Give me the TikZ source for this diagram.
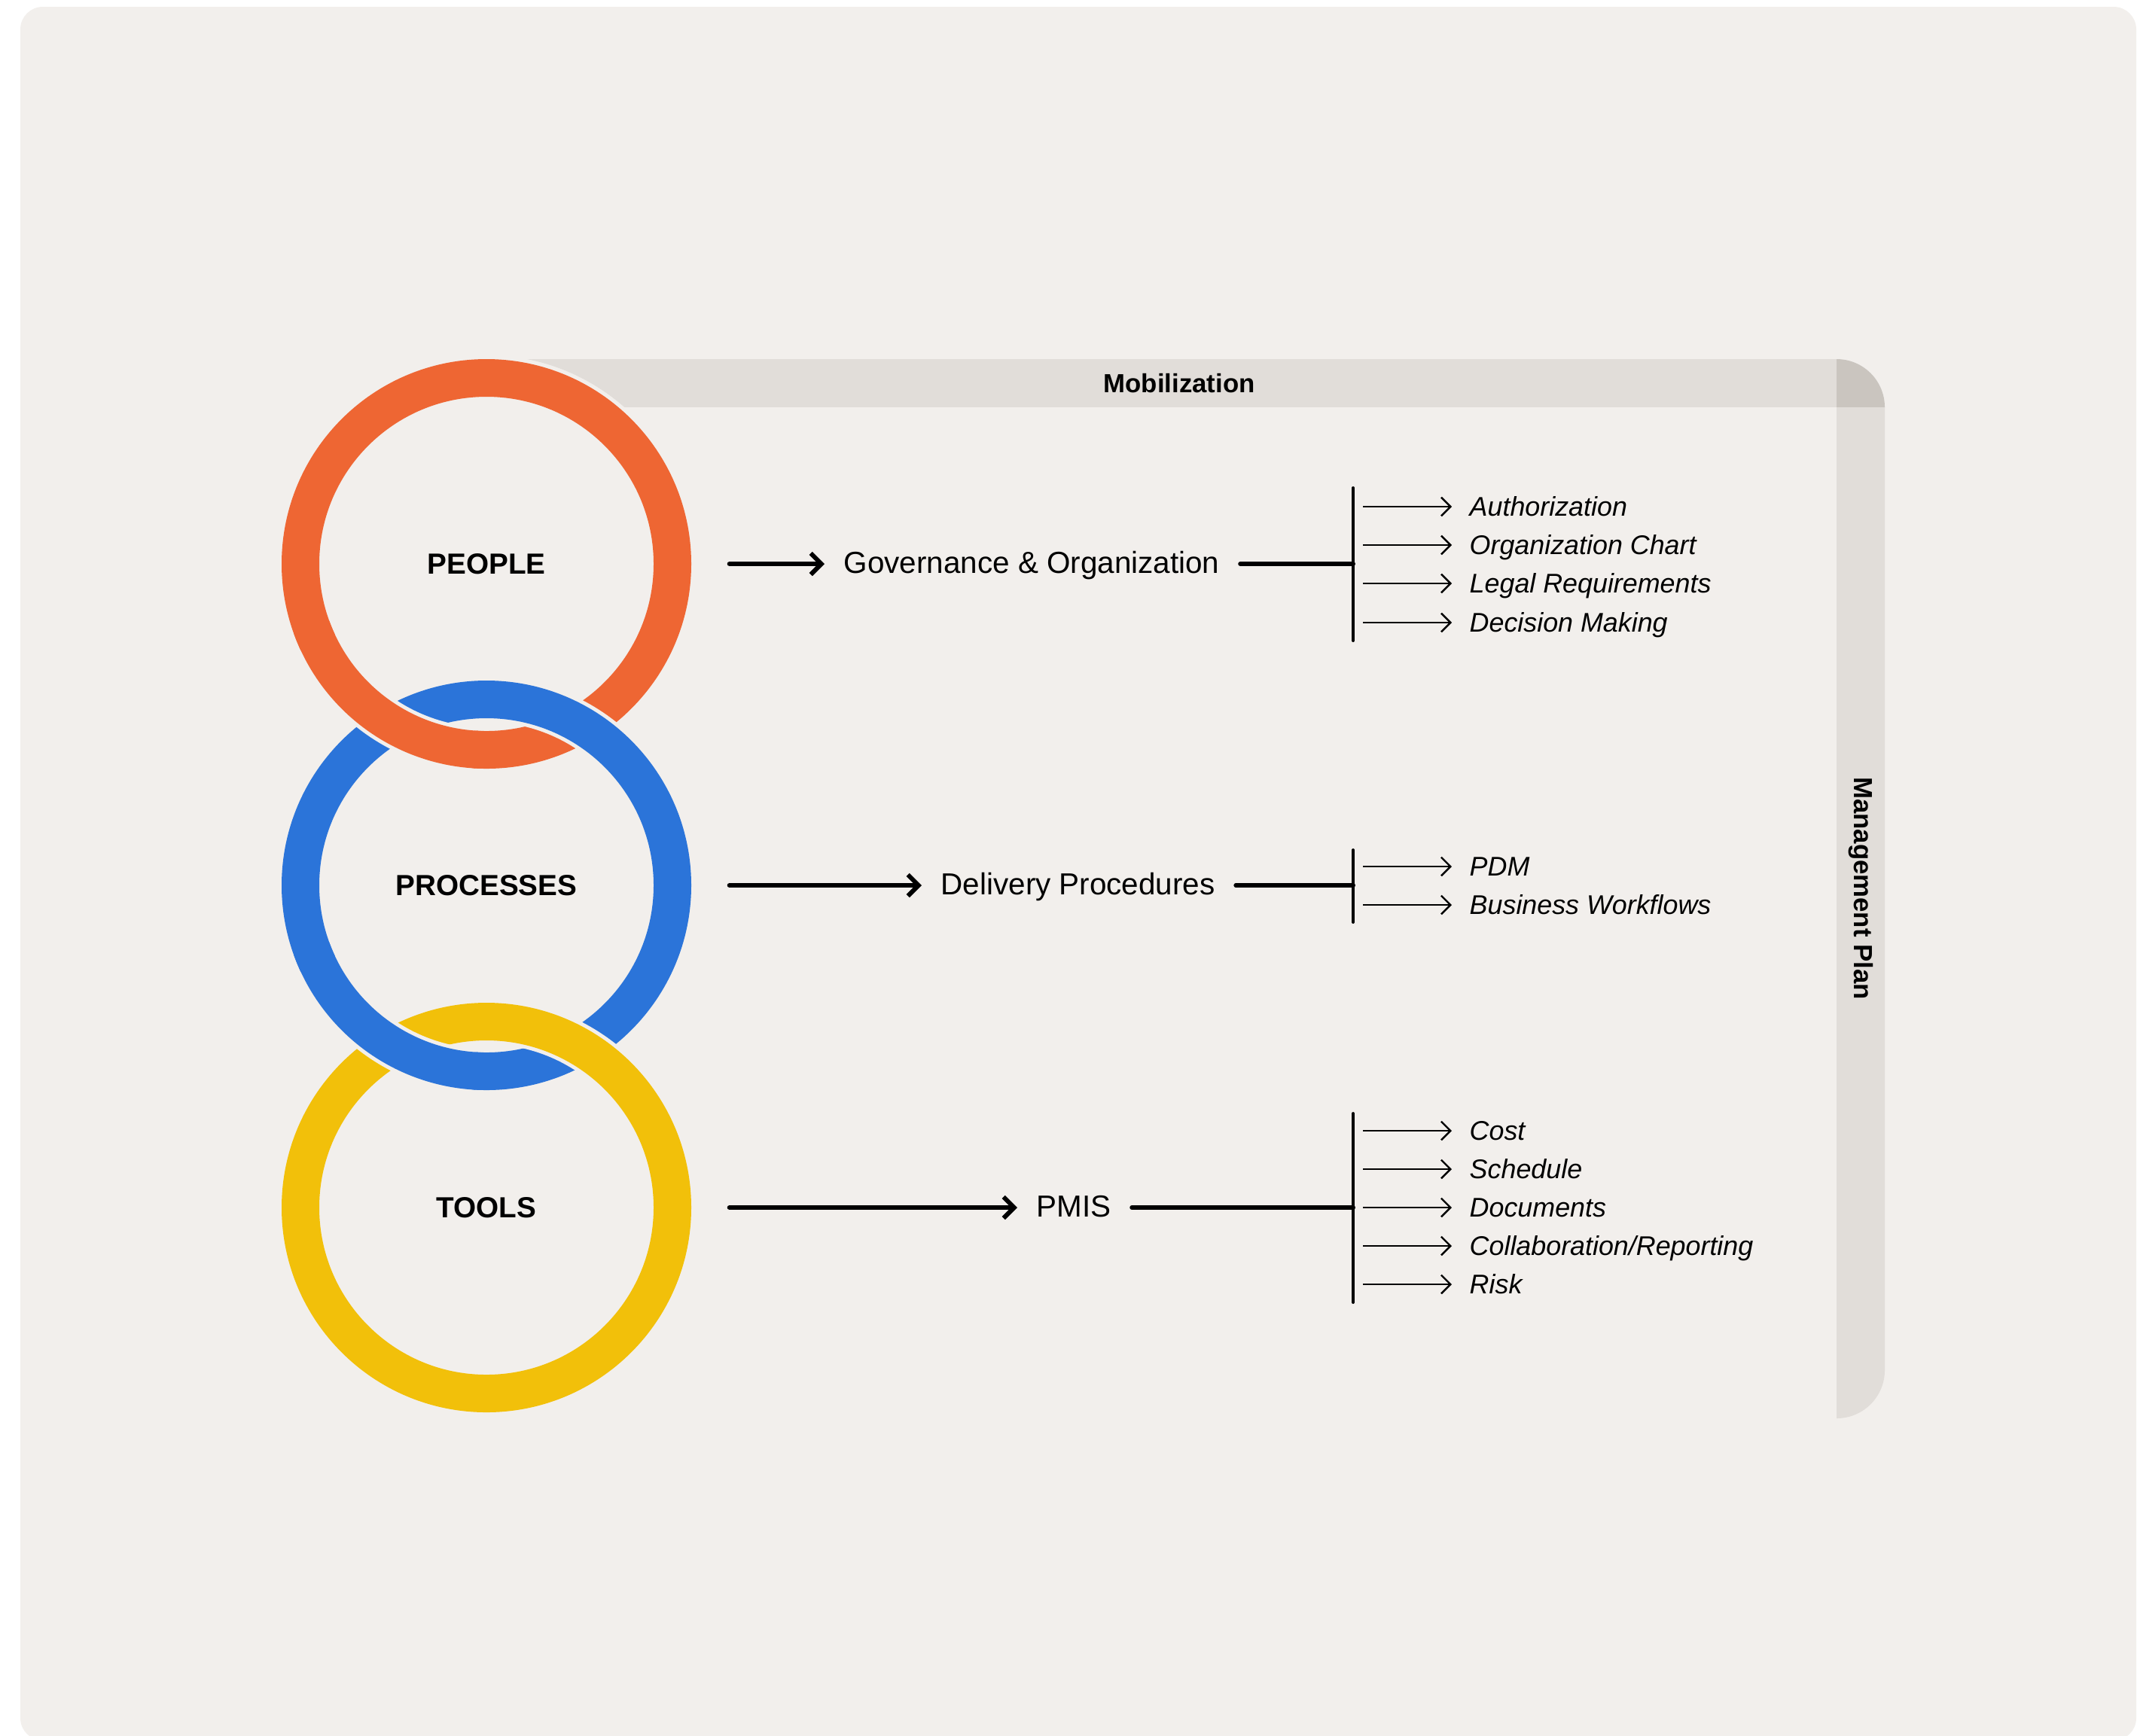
\documentclass[tikz,border=0pt]{standalone}
\usepackage{fontspec}
\setmainfont{Liberation Sans}
\usetikzlibrary{arrows.meta}
\definecolor{pagebg}{HTML}{F2EFEC}
\definecolor{bargray}{HTML}{E1DDD9}
\definecolor{cornergray}{HTML}{CAC5BF}
\definecolor{peopleorange}{HTML}{EE6633}
\definecolor{processblue}{HTML}{2B74D9}
\definecolor{toolsyellow}{HTML}{F2C00A}
\tikzset{
  ringlbl/.style={circle,minimum size=5.44cm,inner sep=0pt,font=\fontsize{11}{13}\selectfont\bfseries},
  mainlbl/.style={anchor=west,inner sep=0.1cm,text height=0.72em,text depth=0pt,font=\fontsize{11.5}{14}\selectfont},
  itemlbl/.style={anchor=west,inner sep=0.1cm,text height=0.72em,text depth=0pt,font=\fontsize{10.2}{12}\selectfont\itshape},
  barlbl/.style={font=\fontsize{9.9}{12}\selectfont\bfseries},
  mainarrow/.style={line width=1.7pt,line cap=round,-{Straight Barb[length=4pt,width=8pt]},shorten <=0.5cm,shorten >=0.15cm},
  tieline/.style={line width=1.7pt,line cap=round,shorten <=0.17cm},
  bracket/.style={line width=1.1pt,line cap=round},
  subarrow/.style={line width=0.7pt,-{Straight Barb[length=3.5pt,width=7pt]},shorten <=0.13cm,shorten >=0.13cm},
  ringgap/.style={pagebg,line width=0.6cm},
  ringband/.style={line width=0.5cm}
}

\begin{document}
\begin{tikzpicture}
\useasboundingbox (0,0) rectangle (28.38,-23.05);
% Draw the page background
\fill[pagebg,rounded corners=0.3cm] (0.27,-0.09) rectangle (28.37,-23.12);
% Draw the Mobilization bar and the Management Plan bar
\fill[bargray] (6.46,-4.77) rectangle (24.39,-5.41);
\fill[cornergray] (24.39,-5.41) -- (24.39,-4.77) arc[start angle=90,end angle=0,radius=0.64] -- cycle;
\fill[bargray] (24.39,-5.41) -- (25.03,-5.41) -- (25.03,-18.20) arc[start angle=0,end angle=-90,radius=0.64] -- cycle;
\node[barlbl] (mob) at (15.66,-5.09) {Mobilization};
\node[barlbl,rotate=-90] (mgmt) at (24.71,-11.80) {Management Plan};
% Clear the bar behind the first ring
\fill[pagebg] (6.46,-7.49) circle (2.77);
% Draw the rings, the lower one over the upper one
\draw[ringgap] (6.46,-7.49) circle (2.47);
\draw[ringband,peopleorange] (6.46,-7.49) circle (2.47);
\draw[ringgap] (6.46,-11.76) circle (2.47);
\draw[ringband,processblue] (6.46,-11.76) circle (2.47);
% Left crossing: the upper ring goes over
\draw[ringgap] (6.46,-7.49) ++(205:2.47) arc[start angle=205,end angle=266,radius=2.47];
\draw[ringband,peopleorange] (6.46,-7.49) ++(200:2.47) arc[start angle=200,end angle=268,radius=2.47];
\draw[ringgap] (6.46,-16.04) circle (2.47);
\draw[ringband,toolsyellow] (6.46,-16.04) circle (2.47);
\draw[ringgap] (6.46,-11.76) ++(205:2.47) arc[start angle=205,end angle=266,radius=2.47];
\draw[ringband,processblue] (6.46,-11.76) ++(200:2.47) arc[start angle=200,end angle=268,radius=2.47];
% Ring labels
\node[ringlbl] (people) at (6.46,-7.49) {PEOPLE};
\node[ringlbl] (processes) at (6.46,-11.76) {PROCESSES};
\node[ringlbl] (tools) at (6.46,-16.04) {TOOLS};
% Main labels
\node[mainlbl] (gov) at (11.10,-7.49) {Governance \& Organization};
\node[mainlbl] (deliv) at (12.39,-11.76) {Delivery Procedures};
\node[mainlbl] (pmis) at (13.66,-16.04) {PMIS};
\draw[mainarrow] (people) -- (gov);
\draw[mainarrow] (processes) -- (deliv);
\draw[mainarrow] (tools) -- (pmis);
% Brackets
\coordinate (govtie) at (17.97,-7.49);
\coordinate (govtop) at (17.97,-6.48);
\coordinate (govbot) at (17.97,-8.51);
\coordinate (deltie) at (17.97,-11.76);
\coordinate (deltop) at (17.97,-11.29);
\coordinate (delbot) at (17.97,-12.25);
\coordinate (pmistie) at (17.97,-16.04);
\coordinate (pmistop) at (17.97,-14.79);
\coordinate (pmisbot) at (17.97,-17.30);
\draw[tieline] (gov) -- (govtie);
\draw[tieline] (deliv) -- (deltie);
\draw[tieline] (pmis) -- (pmistie);
\draw[bracket] (govtop) -- (govbot);
\draw[bracket] (deltop) -- (delbot);
\draw[bracket] (pmistop) -- (pmisbot);
% Items
\node[itemlbl] (auth) at (19.41,-6.73) {Authorization};
\node[itemlbl] (orgchart) at (19.41,-7.24) {Organization Chart};
\node[itemlbl] (legal) at (19.41,-7.75) {Legal Requirements};
\node[itemlbl] (decision) at (19.41,-8.27) {Decision Making};
\node[itemlbl] (pdm) at (19.41,-11.51) {PDM};
\node[itemlbl] (workflows) at (19.41,-12.02) {Business Workflows};
\node[itemlbl] (cost) at (19.41,-15.02) {Cost};
\node[itemlbl] (schedule) at (19.41,-15.53) {Schedule};
\node[itemlbl] (docs) at (19.41,-16.04) {Documents};
\node[itemlbl] (collab) at (19.41,-16.55) {Collaboration/Reporting};
\node[itemlbl] (risk) at (19.41,-17.06) {Risk};
\draw[subarrow] (govtie |- auth) -- (auth);
\draw[subarrow] (govtie |- orgchart) -- (orgchart);
\draw[subarrow] (govtie |- legal) -- (legal);
\draw[subarrow] (govtie |- decision) -- (decision);
\draw[subarrow] (deltie |- pdm) -- (pdm);
\draw[subarrow] (deltie |- workflows) -- (workflows);
\draw[subarrow] (pmistie |- cost) -- (cost);
\draw[subarrow] (pmistie |- schedule) -- (schedule);
\draw[subarrow] (pmistie |- docs) -- (docs);
\draw[subarrow] (pmistie |- collab) -- (collab);
\draw[subarrow] (pmistie |- risk) -- (risk);
\end{tikzpicture}
\end{document}
